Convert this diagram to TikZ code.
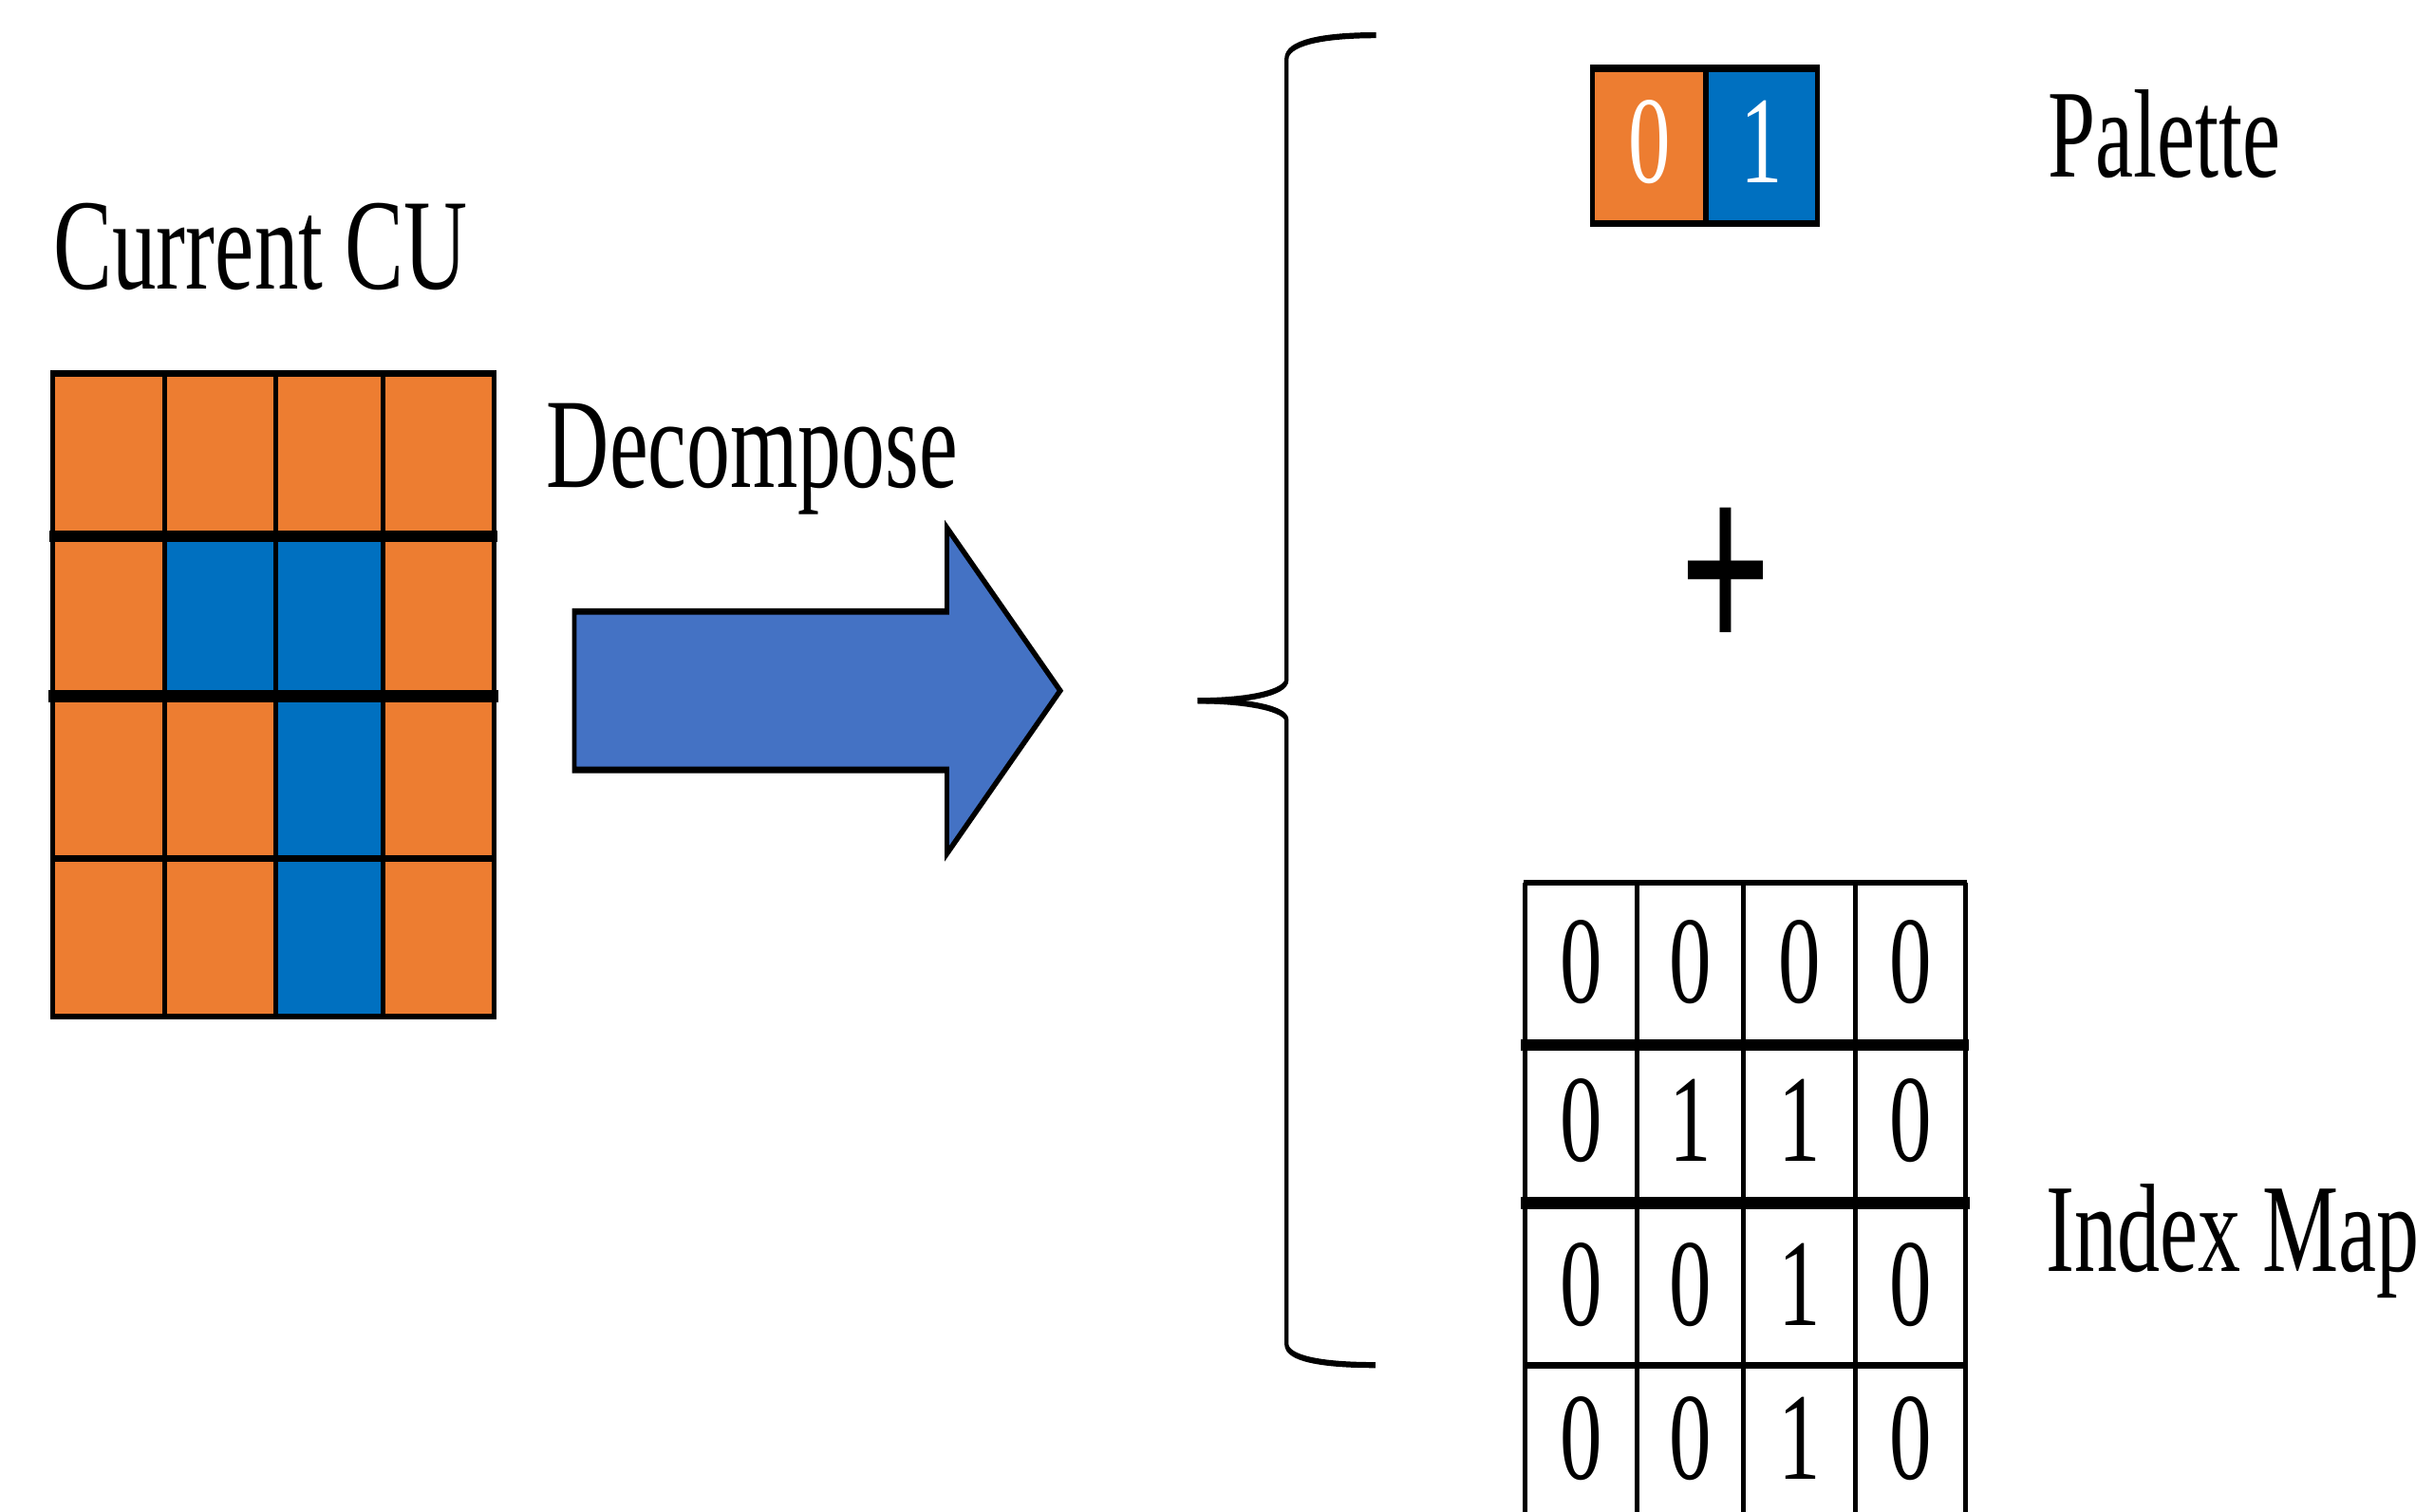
\documentclass[tikz,border=0pt]{standalone}
\usepackage{fontspec}
\setmainfont{Liberation Serif}
\definecolor{cellorange}{HTML}{ED7D31}
\definecolor{cellblue}{HTML}{0070C0}
\definecolor{arrowfill}{HTML}{4472C4}
\tikzset{
  labeltext/.style={inner sep=0pt, anchor=base west, font=\fontsize{81}{90}\selectfont},
  digit/.style={inner sep=0pt, anchor=base, font=\fontsize{80}{90}\selectfont},
  rule/.style={line cap=rect},
}
\begin{document}
\begin{tikzpicture}[x=1pt,y=-1pt]
\useasboundingbox[fill=white] (0,0) rectangle (1568,974);
% everything is drawn in a horizontally condensed canvas
\begin{scope}[x=1.470588pt, transform canvas={xscale=0.68}]

  % ---- current CU: 4x4 block of orange / blue samples ----
  \fill[cellorange] (34,240.5) rectangle (318.2,655);
  \fill[cellblue] (105.9,345.5) rectangle (246.6,448.4);
  \fill[cellblue] (177.5,448.4) rectangle (246.6,655);
  \foreach \x in {34,105.9,177.5,246.6,318.2}
    \draw[line width=4.2] (\x,240.5) -- (\x,655);
  \draw[rule, line width=4.1] (34,240.5) -- (318.2,240.5);
  \draw[rule, line width=7.3] (34,345.5) -- (318.2,345.5);
  \draw[rule, line width=8.2] (34,448.4) -- (318.2,448.4);
  \draw[rule, line width=4.1] (34,553) -- (318.2,553);
  \draw[rule, line width=4.1] (34,655) -- (318.2,655);

  \node[labeltext, font=\fontsize{83.5}{90}\selectfont] (cu) at (34.5,186) {Current CU};

  % ---- decomposition arrow ----
  \node[labeltext, font=\fontsize{82.5}{90}\selectfont] (dec) at (352,314) {Decompose};
  \draw[line width=4.2, fill=arrowfill, line join=miter]
    (370,394) -- (610,394) -- (610,340) -- (683,445) -- (610,550) -- (610,496) -- (370,496) -- cycle;

  % ---- curly brace ----
  \draw[line width=3.8] (886.5,22.7) .. controls (850,22.7) and (828.8,28) .. (828.8,38)
    -- (828.8,438) .. controls (828.8,446) and (805,451.5) .. (771.5,451.5);
  \draw[line width=3.8] (771.5,451.5) .. controls (805,451.5) and (828.8,457) .. (828.8,464)
    -- (828.8,866) .. controls (828.8,875) and (850,879.5) .. (886,879.5);

  % ---- palette ----
  \fill[cellorange] (1026,44) rectangle (1099,144);
  \fill[cellblue] (1099,44) rectangle (1171,144);
  \draw[rule, line width=4.5] (1026,44) -- (1171,44) (1026,144) -- (1171,144);
  \draw[line width=4.4] (1026,44) -- (1026,144) (1171,44) -- (1171,144);
  \draw[line width=5.5] (1099,44) -- (1099,144);
  \node[digit, text=white] (pal0) at (1062.5,118) {0};
  \node[digit, text=white] (pal1) at (1135,118) {1};
  \node[labeltext] (pal) at (1319,114) {Palette};

  % ---- plus sign ----
  \node[inner sep=0pt, font=\fontsize{150}{150}\bfseries] (plus) at (1111.5,376)
    {\scalebox{1.02}[1.15]{+}};

  % ---- index map ----
  \foreach \x in {982.5,1054.5,1123.2,1195.2,1266}
    \draw[line width=4.7] (\x,568.7) -- (\x,974);
  \draw[rule, line width=3.5] (982.5,568.7) -- (1266,568.7);
  \draw[rule, line width=7.5] (982.5,673.2) -- (1266,673.2);
  \draw[rule, line width=8] (982.5,775) -- (1266,775);
  \draw[rule, line width=4.3] (982.5,879.6) -- (1266,879.6);
  \foreach \row/\base [count=\r] in {{0,0,0,0}/646,{0,1,1,0}/748,{0,0,1,0}/854,{0,0,1,0}/953}
    \foreach \v [count=\c] in \row {
      \pgfmathsetmacro\cx{{1018.5,1088.9,1159.2,1231}[\c-1]}
      \node[digit] (idx-\r-\c) at (\cx,\base) {\v};
    }
  \node[labeltext] (idx) at (1318,819) {Index Map};

\end{scope}
\end{tikzpicture}
\end{document}
